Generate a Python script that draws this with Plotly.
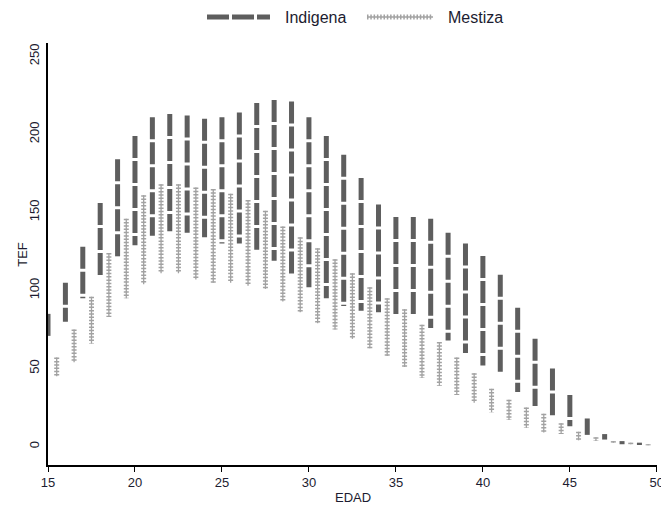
import plotly.graph_objects as go

edad = list(range(15, 50))

ind_hi = [85, 105, 128, 156, 184, 199, 211, 213, 212, 210, 211, 214, 220, 222, 221,
          211, 199, 187, 172, 155, 147, 147, 146, 137, 130, 122, 110, 89, 69, 50,
          33, 18, 8, 3.5, 2.5]
ind_lo = [69, 80, 95, 109, 121, 129, 135, 138, 137, 134, 130, 130, 126, 119, 109,
          102, 95, 90, 87, 86, 84, 84, 76, 68, 60, 52, 46, 35, 26, 20,
          13, 7.5, 4.5, 1.5, 1]

mes_hi = [57, 75, 96, 124, 146, 161, 168, 168, 166, 165, 162, 158, 151, 141, 134,
          127, 120, 111, 102, 95, 88, 78, 67, 57, 47, 37, 30, 25, 21, 15,
          9.5, 6, 3.5, 2.5, 1.5]
mes_lo = [45, 54, 66, 83, 95, 104, 111, 111, 107, 105, 105, 103, 101, 93, 86,
          79, 75, 69, 63, 58, 51, 44, 39, 33, 28, 22, 17, 12, 9, 8,
          4, 3.5, 2.5, 1.5, 0.8]

mes_edad = [a + 0.5 for a in edad]

x_ticks = [15, 20, 25, 30, 35, 40, 45, 50]
y_ticks = [0, 50, 100, 150, 200, 250]
series_names = ["Indigena", "Mestiza"]

IND_COL = "#5e5e5e"
MES_COL = "#a2a2a2"
IND_DASH = "22px,3px"
MES_DASH = "1.5px,1.8px"


def segs(xs, hi, lo):
    X, Y = [], []
    for x, h, l in zip(xs, hi, lo):
        X += [x, x, None]
        Y += [h, l, None]
    return X, Y


ix, iy = segs(edad, ind_hi, ind_lo)
mx, my = segs(mes_edad, mes_hi, mes_lo)

fig = go.Figure()
fig.add_trace(go.Scatter(x=mx, y=my, mode="lines", showlegend=False,
                         line=dict(color=MES_COL, width=1.3), hoverinfo="skip"))
fig.add_trace(go.Scatter(x=mx, y=my, mode="lines", name=series_names[1], showlegend=False,
                         line=dict(color=MES_COL, width=5, dash=MES_DASH)))
fig.add_trace(go.Scatter(x=ix, y=iy, mode="lines", name=series_names[0], showlegend=False,
                         line=dict(color=IND_COL, width=5, dash=IND_DASH)))

font_col = "#1c1c30"

# legend (drawn in paper coordinates, above the plot)
ly = 1.0616
shapes = [
    dict(type="line", xref="paper", yref="paper", x0=0.2611, x1=0.3645, y0=ly, y1=ly,
         line=dict(color=IND_COL, width=5, dash=IND_DASH)),
    dict(type="line", xref="paper", yref="paper", x0=0.5238, x1=0.6322, y0=ly, y1=ly,
         line=dict(color=MES_COL, width=1.3)),
    dict(type="line", xref="paper", yref="paper", x0=0.5238, x1=0.6322, y0=ly, y1=ly,
         line=dict(color=MES_COL, width=5, dash=MES_DASH)),
]
# rotate Mestiza legend pattern: vertical ticks on horizontal line give crosses as well

annotations = [
    dict(text="EDAD", xref="paper", yref="paper", x=0.5, y=-0.076,
         xanchor="center", yanchor="middle", showarrow=False,
         font=dict(size=13, color=font_col)),
    dict(text="TEF", xref="paper", yref="paper", x=-0.043, y=0.5,
         xanchor="center", yanchor="middle", textangle=-90, showarrow=False,
         font=dict(size=13, color=font_col)),
    dict(text=series_names[0], xref="paper", yref="paper", x=0.3859, y=ly,
         xanchor="left", yanchor="middle", showarrow=False,
         font=dict(size=16, color=font_col)),
    dict(text=series_names[1], xref="paper", yref="paper", x=0.6535, y=ly,
         xanchor="left", yanchor="middle", showarrow=False,
         font=dict(size=16, color=font_col)),
]

fig.update_layout(
    width=661, height=505,
    margin=dict(l=48, r=4, t=43, b=40, autoexpand=False),
    paper_bgcolor="white", plot_bgcolor="white",
    font=dict(family="Liberation Sans, Arial, sans-serif", size=13, color=font_col),
    showlegend=False,
    xaxis=dict(range=[15, 50.01], tickvals=x_ticks, ticks="outside", ticklen=5,
               tickcolor="black", showline=True, linecolor="black", linewidth=1.5,
               showgrid=False, zeroline=False, automargin=False,
               ticklabeloverflow="allow", tickfont=dict(size=13)),
    yaxis=dict(range=[-11.8, 258.5], tickvals=y_ticks, ticks="", tickangle=-90,
               showline=True, linecolor="black", linewidth=1.5,
               showgrid=False, zeroline=False, automargin=False,
               ticklabelstandoff=2, tickfont=dict(size=13)),
    shapes=shapes,
    annotations=annotations,
)

fig.write_html("out.html", config={"displayModeBar": False},
               post_script="document.body.style.margin='0';document.body.style.overflow='hidden';")
